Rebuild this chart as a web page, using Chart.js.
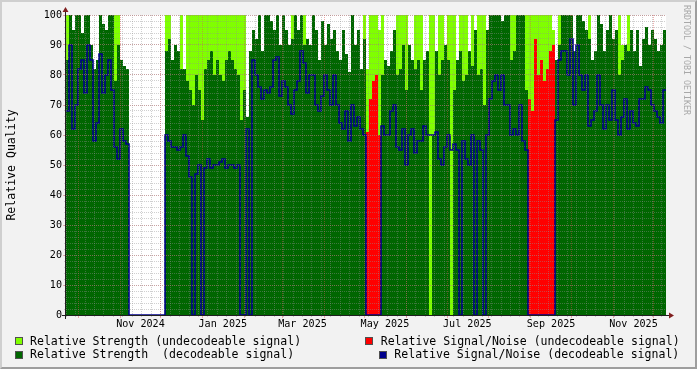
<!DOCTYPE html>
<html><head><meta charset="utf-8">
<script src="https://cdn.jsdelivr.net/npm/chart.js@4.4.1/dist/chart.umd.min.js"></script>
<style>
html,body{margin:0;padding:0;background:#f2f2f2;}
#wrap{position:relative;width:697px;height:369px;overflow:hidden;font-family:"DejaVu Sans Mono",monospace;}
#c{position:absolute;left:0;top:0;}
.frame{position:absolute;left:0;top:0;width:697px;height:369px;box-sizing:border-box;border-top:2px solid #cfcfcf;border-left:2px solid #cfcfcf;border-right:2px solid #9e9e9e;border-bottom:2px solid #9e9e9e;pointer-events:none;}
.lg{position:absolute;font-size:11.55px;line-height:11.55px;white-space:pre;color:#000;}
.sw{position:absolute;width:6px;height:6px;border:1px solid #505050;}
.wm{position:absolute;left:683px;top:5px;writing-mode:vertical-rl;font-size:8.3px;line-height:8.3px;color:#a8a8a8;white-space:pre;}
</style></head>
<body>
<div id="wrap">
<canvas id="c" width="697" height="369"></canvas>
<div class="wm">RRDTOOL / TOBI OETIKER</div>
<div id="legend"></div>
<div class="frame"></div>
</div>
<script>
// ---- data (one value per time bucket, ~2.2 days each) ----
const darkStrength = [
85,100,95,100,100,94,100,100,90,82,
85,100,97,95,100,100,78,90,85,83,
82,0,0,0,0,0,0,0,0,0,
0,0,0,88,92,85,90,88,82,82,
78,75,70,80,75,65,82,85,88,80,
85,80,78,85,88,85,82,80,65,75,
66,88,95,92,100,88,100,100,98,95,
100,90,100,95,90,92,100,95,100,90,
92,90,100,95,85,98,90,97,92,95,
88,85,95,87,81,100,90,95,82,92,
0,0,0,0,0,80,85,83,88,95,
80,82,90,75,90,85,82,85,75,85,
88,0,60,88,80,85,90,85,0,75,
85,88,78,80,88,83,95,80,82,70,
95,100,100,100,100,98,100,100,85,88,
100,100,100,75,0,0,0,0,0,0,
0,0,0,85,90,100,100,100,100,88,
100,100,98,95,92,85,88,100,97,88,
95,100,92,95,80,85,90,88,95,88,
95,83,92,96,90,95,92,88,90,95];
const lightStrength = [
100,100,95,100,100,94,100,100,90,82,
85,100,97,95,100,100,100,100,85,83,
82,0,0,0,0,0,0,0,0,0,
0,0,0,100,100,85,90,88,100,82,
100,100,100,100,100,100,100,100,100,100,
100,100,100,100,100,100,100,100,100,100,
66,88,95,92,100,88,100,100,98,95,
100,90,100,95,90,100,100,95,100,100,
92,90,100,95,85,98,90,97,92,95,
88,85,95,87,81,100,90,95,82,100,
82,100,100,100,95,100,85,83,88,95,
100,100,100,100,90,85,100,100,100,85,
88,100,100,88,100,100,90,100,100,100,
85,100,100,100,88,100,95,100,100,100,
95,100,100,100,100,98,100,100,100,100,
100,100,100,100,100,100,100,100,100,100,
100,100,95,85,100,100,100,100,100,88,
100,100,98,95,100,85,88,100,97,88,
95,100,92,95,100,90,90,100,95,88,
95,83,92,96,90,95,92,88,90,95];
const redSNR = [
0,0,0,0,0,0,0,0,0,0, 0,0,0,0,0,0,0,0,0,0,
0,0,0,0,0,0,0,0,0,0, 0,0,0,0,0,0,0,0,0,0,
0,0,0,0,0,0,0,0,0,0, 0,0,0,0,0,0,0,0,0,0,
0,0,0,0,0,0,0,0,0,0, 0,0,0,0,0,0,0,0,0,0,
0,0,0,0,0,0,0,0,0,0, 0,0,0,0,0,0,0,0,0,0,
61,72,78,80,60,0,0,0,0,0, 0,0,0,0,0,0,0,0,0,0,
0,0,0,0,0,0,0,0,0,0, 0,0,0,0,0,0,0,0,0,0,
0,0,0,0,0,0,0,0,0,0, 0,0,0,0,72,68,92,80,85,78,
82,88,90,0,0,0,0,0,0,0, 0,0,0,0,0,0,0,0,0,0,
0,0,0,0,0,0,0,0,0,0, 0,0,0,0,0,0,0,0,0,0];
const blueSNR = [
68,90,62,70,82,85,74,90,85,58,
64,87,74,80,85,75,56,52,62,58,
57,0,0,0,0,0,0,0,0,0,
0,0,0,60,58,56,56,55,56,60,
53,46,0,47,50,0,49,52,49,50,
50,51,52,49,50,50,49,50,0,0,
62,0,85,80,76,72,75,74,76,85,
86,73,78,76,70,67,75,78,88,84,
74,80,80,70,68,73,80,75,70,80,
70,64,62,68,58,70,63,66,62,60,
0,0,0,0,0,63,60,60,68,70,
56,55,62,50,60,62,54,58,58,63,
60,60,60,61,52,50,56,60,55,57,
55,0,58,52,50,60,0,58,55,0,
60,72,78,80,75,80,70,70,60,62,
60,70,58,55,0,0,0,0,0,0,
0,0,0,65,85,88,88,80,92,70,
90,80,75,80,63,65,68,80,70,62,
70,65,75,65,60,66,72,62,68,64,
63,72,72,76,75,70,68,66,64,75];
const yTicks = [0,10,20,30,40,50,60,70,80,90,100];
const xTickLabels = ['Nov 2024','Jan 2025','Mar 2025','May 2025','Jul 2025','Sep 2025','Nov 2025'];
const xLabelMonths = [[2024,10],[2025,0],[2025,2],[2025,4],[2025,6],[2025,8],[2025,10]];
const legendLabels = ['Relative Strength (undecodeable signal)','Relative Strength  (decodeable signal)','Relative Signal/Noise (undecodeable signal)','Relative Signal/Noise (decodeable signal)'];
const seriesColors = ['#80ff00','#006600','#ff0000','#00008b'];

// ---- time axis (days relative to 2024-10-01) ----
const day = (y,m,d) => (Date.UTC(y,m,d) - Date.UTC(2024,9,1)) / 864e5;
const X_MIN = -9.11, X_MAX = X_MIN + 444.2;
const STEP = (X_MAX - X_MIN) / darkStrength.length;
const pts = arr => arr.map((v,i)=>({x: X_MIN + i*STEP, y: v})).concat([{x: X_MAX, y: arr[arr.length-1]}]);

const monthTicks = [];
for (let y=2024, m=8; ; m++) { if (m>11){m=0;y++;} const d = day(y,m,1); if (d > X_MAX) break; if (d >= X_MIN) monthTicks.push(d); }
const weekTicks = [];
for (let d = day(2024,8,22); d <= X_MAX; d += 7) if (d >= X_MIN) weekTicks.push(d);
const labelTicks = xLabelMonths.map(([y,m]) => day(y,m,1) + 15);
const yMinorTicks = []; for (let v=0; v<=100; v+=2) yMinorTicks.push(v);

const GRID = 'rgba(143,143,143,0.42)';
const MGRID = 'rgba(222,79,79,0.45)';
const FONT = 'DejaVu Sans Mono';

const rrdPlugin = {
  id: 'rrd',
  beforeDraw(chart) {
    const {ctx, chartArea: a} = chart;
    ctx.save();
    ctx.fillStyle = '#f2f2f2'; ctx.fillRect(0,0,chart.width,chart.height);
    ctx.fillStyle = '#ffffff'; ctx.fillRect(a.left,a.top,a.right-a.left,a.bottom-a.top);
    ctx.restore();
  },
  afterDraw(chart) {
    const {ctx, chartArea: a} = chart;
    ctx.save();
    ctx.strokeStyle = '#1f1f1f'; ctx.lineWidth = 1;
    ctx.beginPath();
    ctx.moveTo(a.left - 4, a.bottom + 0.5); ctx.lineTo(a.right + 4, a.bottom + 0.5);
    ctx.moveTo(a.left - 0.5, a.bottom + 4); ctx.lineTo(a.left - 0.5, a.top - 4);
    ctx.stroke();
    ctx.fillStyle = '#801f1f';
    ctx.beginPath();
    ctx.moveTo(a.left - 0.5, a.top - 8); ctx.lineTo(a.left - 3.5, a.top - 3); ctx.lineTo(a.left + 2.5, a.top - 3); ctx.closePath();
    ctx.moveTo(a.right + 8, a.bottom + 0.5); ctx.lineTo(a.right + 3, a.bottom - 2.5); ctx.lineTo(a.right + 3, a.bottom + 3.5); ctx.closePath();
    ctx.fill();
    ctx.restore();
  }
};

const area = (data, color, order) => ({data: pts(data), stepped: true, fill: 'origin', backgroundColor: color,
  borderColor: 'rgba(0,0,0,0)', borderWidth: 0, pointRadius: 0, order});

new Chart(document.getElementById('c'), {
  type: 'line',
  data: { datasets: [
    area(lightStrength, seriesColors[0], 3),
    area(darkStrength, seriesColors[1], 2),
    area(redSNR, seriesColors[2], 1),
    {data: pts(blueSNR), stepped: true, fill: false, borderColor: seriesColors[3], borderWidth: 1.6, pointRadius: 0, order: 0}
  ]},
  options: {
    responsive: false, animation: false, devicePixelRatio: 1,
    layout: {padding: {top: 15, right: 31, bottom: 0, left: 0}},
    plugins: {legend: {display: false}, tooltip: {enabled: false}},
    scales: {
      x: {type: 'linear', display: false, min: X_MIN, max: X_MAX},
      xMinor: {type: 'linear', position: 'bottom', weight: 0, min: X_MIN, max: X_MAX,
        afterBuildTicks: s => { s.ticks = weekTicks.map(v => ({value: v})); },
        afterFit: s => { s.height = 0; },
        ticks: {display: false},
        grid: {z: 1, color: GRID, tickColor: GRID, tickLength: 2, lineWidth: 1},
        border: {display: false, dash: [1,1]}},
      xMajor: {type: 'linear', position: 'bottom', weight: 0, min: X_MIN, max: X_MAX,
        afterBuildTicks: s => { s.ticks = monthTicks.map(v => ({value: v})); },
        afterFit: s => { s.height = 0; },
        ticks: {display: false},
        grid: {z: 1, color: MGRID, tickColor: MGRID, tickLength: 3, lineWidth: 1},
        border: {display: false, dash: [1,1]}},
      xLabels: {type: 'linear', position: 'bottom', weight: 1, min: X_MIN, max: X_MAX,
        afterBuildTicks: s => { s.ticks = labelTicks.map(v => ({value: v})); },
        afterFit: s => { s.height = 54; },
        grid: {display: false, drawTicks: false},
        border: {display: false},
        ticks: {autoSkip: false, maxRotation: 0, padding: 3, color: '#000',
          font: {family: FONT, size: 10.1}, callback: (v, i) => xTickLabels[i]}},
      y: {type: 'linear', position: 'left', weight: 1, min: 0, max: 100,
        afterBuildTicks: s => { s.ticks = yTicks.map(v => ({value: v})); },
        afterFit: s => { s.width = 66; },
        ticks: {autoSkip: false, padding: 1, color: '#000', font: {family: FONT, size: 10.1}, callback: v => String(v)},
        grid: {z: 1, color: MGRID, tickColor: MGRID, tickLength: 3, lineWidth: 1},
        border: {display: false, dash: [1,1]},
        title: {display: true, text: 'Relative Quality', color: '#000', font: {family: FONT, size: 11.55}, padding: {top: 5, bottom: 0}}},
      yMinor: {type: 'linear', position: 'left', weight: 0, min: 0, max: 100,
        afterBuildTicks: s => { s.ticks = yMinorTicks.map(v => ({value: v})); },
        afterFit: s => { s.width = 0; },
        ticks: {display: false},
        grid: {z: 1, color: GRID, tickColor: GRID, tickLength: 2, lineWidth: 1},
        border: {display: false, dash: [1,1]}}
    }
  },
  plugins: [rrdPlugin]
});

// ---- legend (HTML text) ----
const legendPos = [[15,337,30,335.6],[15,350.7,30,349],[365,337,380.7,335.6],[379,350.7,394.3,349]];
const lg = document.getElementById('legend');
legendLabels.forEach((t, i) => {
  const [sx, sy, tx, ty] = legendPos[i];
  const sw = document.createElement('div'); sw.className = 'sw';
  sw.style.left = sx + 'px'; sw.style.top = sy + 'px'; sw.style.background = seriesColors[i];
  const tx_ = document.createElement('div'); tx_.className = 'lg';
  tx_.style.left = tx + 'px'; tx_.style.top = ty + 'px'; tx_.textContent = t;
  lg.appendChild(sw); lg.appendChild(tx_);
});
</script>
</body></html>
